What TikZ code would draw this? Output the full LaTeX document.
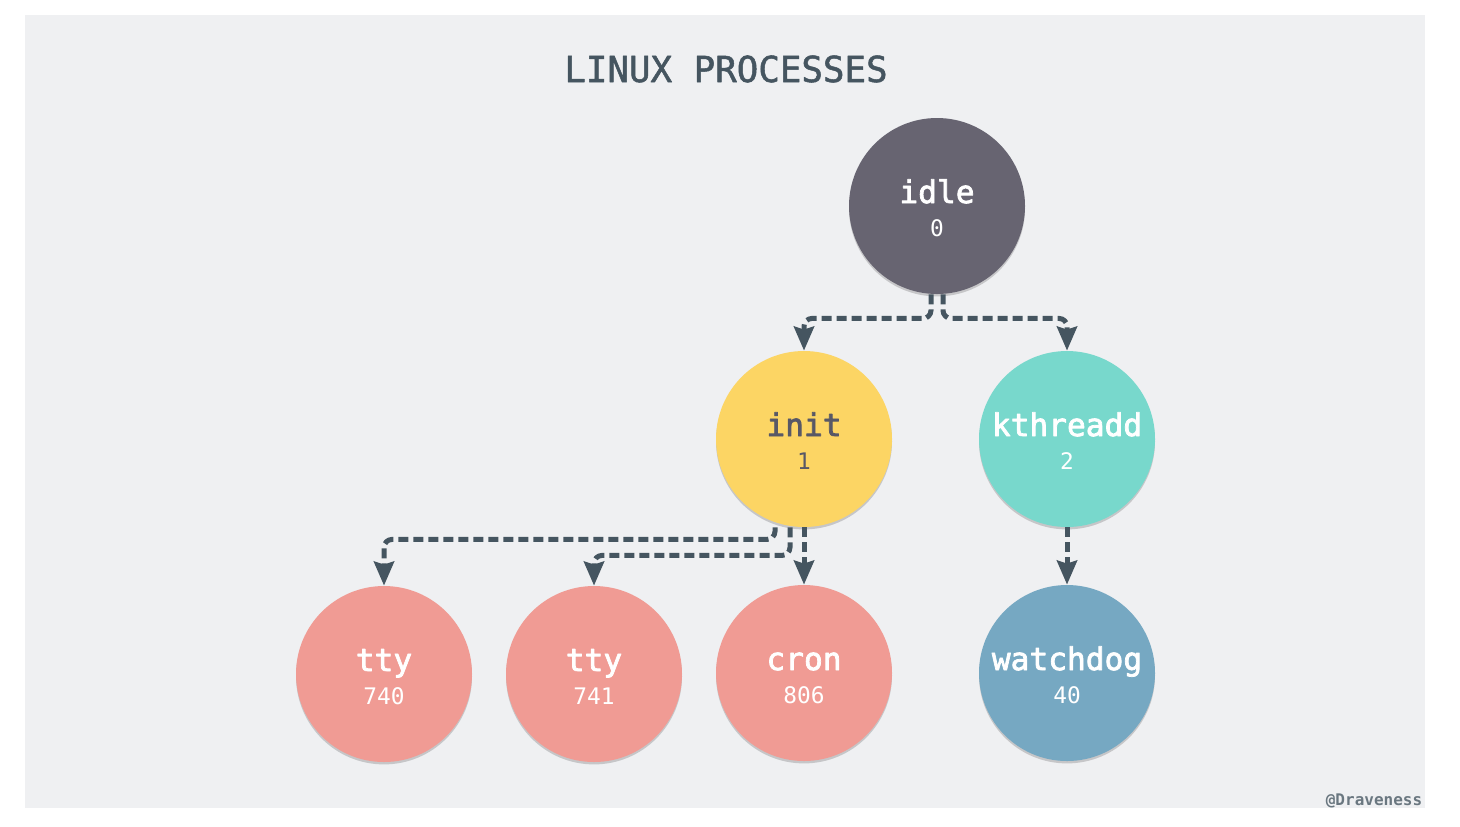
\documentclass[tikz,border=0pt]{standalone}
\usepackage{fontspec}
\setmonofont{DejaVu Sans Mono}
\newfontfamily\namefont{DejaVu Sans Mono}[FakeBold=2.4]
\newfontfamily\titlefont{DejaVu Sans Mono}[FakeBold=1.4]
\usetikzlibrary{arrows.meta,shadows}
\definecolor{bgcol}{RGB}{239,240,242}
\definecolor{inkcol}{RGB}{69,85,96}
\definecolor{inittext}{RGB}{88,88,102}
\definecolor{idlecol}{RGB}{103,100,113}
\definecolor{initcol}{RGB}{252,213,100}
\definecolor{kthcol}{RGB}{120,216,204}
\definecolor{ttycol}{RGB}{240,155,148}
\definecolor{dogcol}{RGB}{118,168,194}
\tikzset{
  proc/.style={circle,minimum size=88pt,inner sep=0pt,
    drop shadow={shadow xshift=0pt,shadow yshift=-1.2pt,opacity=0.25,fill=black!70}},
  pname/.style={anchor=base,font=\namefont\fontsize{15.6}{16}\selectfont},
  pnum/.style={anchor=base,font=\ttfamily\fontsize{11.4}{12}\selectfont},
  link/.style={draw=inkcol,line width=2.5pt,dash pattern=on 5pt off 2.5pt,
    rounded corners=4pt,-{Stealth[length=12pt,width=10pt,inset=1.5pt]}},
}
\begin{document}
\begin{tikzpicture}[x=0.5pt,y=-0.5pt,line join=round]
\useasboundingbox (0,0) rectangle (1460,826);
\fill[bgcol] (25,15) rectangle (1425,808);
\node[anchor=base,text=inkcol,font=\titlefont\fontsize{17.9}{18}\selectfont] (title) at (726,82) {LINUX PROCESSES};
% processes
\node[proc,fill=idlecol] (idle) at (937,206) {};
\node[proc,fill=initcol] (init) at (804,439) {};
\node[proc,fill=kthcol] (kthreadd) at (1067,439) {};
\node[proc,fill=ttycol] (tty740) at (384,674) {};
\node[proc,fill=ttycol] (tty741) at (594,674) {};
\node[proc,fill=ttycol] (cron) at (804,673) {};
\node[proc,fill=dogcol] (watchdog) at (1067,673) {};
% labels
\node[pname,text=white] (idle-name) at ([yshift=1.5pt]idle.center) {idle};
\node[pnum,text=white] (idle-num) at ([yshift=-15pt]idle.center) {0};
\node[pname,text=inittext] (init-name) at ([yshift=1.5pt]init.center) {init};
\node[pnum,text=inittext] (init-num) at ([yshift=-15pt]init.center) {1};
\node[pname,text=white] (kthreadd-name) at ([yshift=1.5pt]kthreadd.center) {kthreadd};
\node[pnum,text=white] (kthreadd-num) at ([yshift=-15pt]kthreadd.center) {2};
\node[pname,text=white] (tty740-name) at ([yshift=1.5pt]tty740.center) {tty};
\node[pnum,text=white] (tty740-num) at ([yshift=-15pt]tty740.center) {740};
\node[pname,text=white] (tty741-name) at ([yshift=1.5pt]tty741.center) {tty};
\node[pnum,text=white] (tty741-num) at ([yshift=-15pt]tty741.center) {741};
\node[pname,text=white] (cron-name) at ([yshift=1.5pt]cron.center) {cron};
\node[pnum,text=white] (cron-num) at ([yshift=-15pt]cron.center) {806};
\node[pname,text=white] (watchdog-name) at ([yshift=1.5pt]watchdog.center) {watchdog};
\node[pnum,text=white] (watchdog-num) at ([yshift=-15pt]watchdog.center) {40};
% links
\draw[link] ([xshift=-3pt]idle.south) -- ++(0,24) -| (init.north);
\draw[link] ([xshift=3pt]idle.south) -- ++(0,24) -| (kthreadd.north);
\draw[link] ([xshift=-14.5pt]init.south) -- ++(0,12) -| (tty740.north);
\draw[link] ([xshift=-7pt]init.south) -- ++(0,28) -| (tty741.north);
\draw[link] (init.south) -- (cron.north);
\draw[link] (kthreadd.south) -- (watchdog.north);
\node[anchor=base,text=inkcol!80,font=\ttfamily\bfseries\fontsize{8}{9}\selectfont] (credit) at (1374,805) {@Draveness};
\end{tikzpicture}
\end{document}
